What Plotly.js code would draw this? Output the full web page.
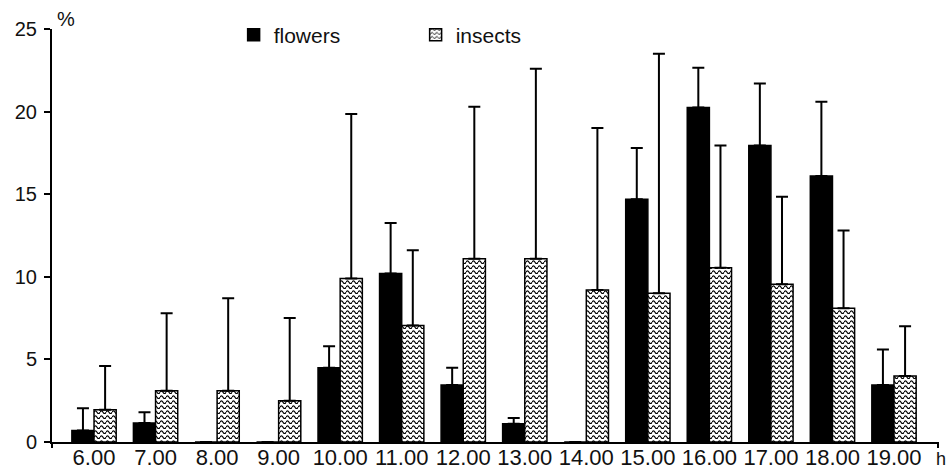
<!DOCTYPE html>
<html>
<head>
<meta charset="utf-8">
<script src="https://cdn.plot.ly/plotly-3.0.1.min.js"></script>
<style>html,body{margin:0;padding:0;background:#fff;}#chart{width:949px;height:474px;}</style>
</head>
<body>
<div id="chart"></div>
<script>
const hours = ["6.00","7.00","8.00","9.00","10.00","11.00","12.00","13.00","14.00","15.00","16.00","17.00","18.00","19.00"];
const flowers = [0.7, 1.15, 0, 0, 4.5, 10.2, 3.45, 1.1, 0, 14.7, 20.25, 17.95, 16.1, 3.45];
const flowersErr = [1.35, 0.65, null, null, 1.3, 3.05, 1.05, 0.35, null, 3.1, 2.4, 3.75, 4.5, 2.15];
const insects = [1.95, 3.1, 3.1, 2.5, 9.9, 7.05, 11.1, 11.1, 9.2, 9.0, 10.55, 9.55, 8.1, 4.0];
const insectsErr = [2.65, 4.7, 5.6, 5.0, 9.95, 4.55, 9.2, 11.5, 9.8, 14.5, 7.4, 5.3, 4.7, 3.0];

const toErr = a => a.map(v => v === null ? NaN : v);
const zeros = a => a.map(() => 0);
const FONT = "Liberation Sans, Arial, sans-serif";
const TXT = "#111";

const traces = [
  {
    type: "bar", name: "flowers", x: hours, y: flowers,
    marker: {color: "#000", line: {color: "#000", width: 1.5}},
    error_y: {type: "data", symmetric: false, array: toErr(flowersErr), arrayminus: zeros(flowersErr),
              color: "#000", thickness: 2, width: 6},
    hoverinfo: "skip"
  },
  {
    type: "bar", name: "insects", x: hours, y: insects,
    marker: {color: "#fff", line: {color: "#000", width: 1.5},
             pattern: {shape: "x", fgcolor: "#000", bgcolor: "#fff", size: 6, solidity: 0.22}},
    error_y: {type: "data", symmetric: false, array: toErr(insectsErr), arrayminus: zeros(insectsErr),
              color: "#000", thickness: 2, width: 6},
    hoverinfo: "skip"
  }
];

const tickDrop = 6 / 413;
const layout = {
  width: 949, height: 474,
  margin: {l: 52, r: 11, t: 29, b: 32},
  paper_bgcolor: "#fff", plot_bgcolor: "#fff",
  font: {family: FONT, size: 17, color: TXT},
  barmode: "group", bargap: 0.28, bargroupgap: 0,
  showlegend: true,
  legend: {orientation: "h", x: 0.205, xanchor: "left", y: 0.985, yanchor: "middle",
           font: {family: FONT, size: 21, color: TXT}, entrywidth: 137, bgcolor: "rgba(0,0,0,0)",
           itemclick: false, traceorder: "normal"},
  xaxis: {type: "category", range: [-0.683, 13.715], showline: true, linecolor: "#000", linewidth: 2, ticks: "",
          tickfont: {family: FONT, size: 22, color: TXT}, showgrid: false, zeroline: false,
          ticklabelstandoff: -5, fixedrange: true},
  yaxis: {range: [0, 25], tickvals: [0, 5, 10, 15, 20, 25], showline: true, linecolor: "#000", linewidth: 2,
          ticks: "outside", ticklen: 6, tickwidth: 2, tickcolor: "#000", showgrid: false, zeroline: false,
          tickfont: {family: FONT, size: 20, color: TXT}, ticklabelstandoff: 3, fixedrange: true},
  shapes: [
    {type: "line", xref: "paper", yref: "paper", x0: 0, x1: 0, y0: 0, y1: -tickDrop, line: {color: "#000", width: 2}},
    {type: "line", xref: "paper", yref: "paper", x0: 1, x1: 1, y0: 0, y1: -tickDrop, line: {color: "#000", width: 2}}
  ],
  annotations: [
    {text: "%", xref: "paper", yref: "paper", x: 0.003, y: 1.0, xanchor: "left", yanchor: "bottom", yshift: -3,
     showarrow: false, font: {family: FONT, size: 20, color: TXT}},
    {text: "h", xref: "paper", yref: "paper", x: 1.0102, y: -0.068, xanchor: "right", yanchor: "bottom",
     showarrow: false, borderpad: 0, font: {family: FONT, size: 18, color: TXT}}
  ]
};

function waveHatch() {
  document.querySelectorAll("#chart pattern").forEach(p => {
    p.setAttribute("width", 6);
    p.setAttribute("height", 5);
    p.querySelectorAll("path").forEach(path => {
      path.setAttribute("d", "M0,3.3 Q1.5,0.5 3,3.3 T6,3.3");
      path.setAttribute("fill", "none");
      path.setAttribute("stroke-width", "1.2");
      path.style.strokeWidth = "1.2px";
      path.style.fill = "none";
    });
  });
}

Plotly.newPlot("chart", traces, layout, {displayModeBar: false, staticPlot: true}).then(waveHatch);
</script>
</body>
</html>
